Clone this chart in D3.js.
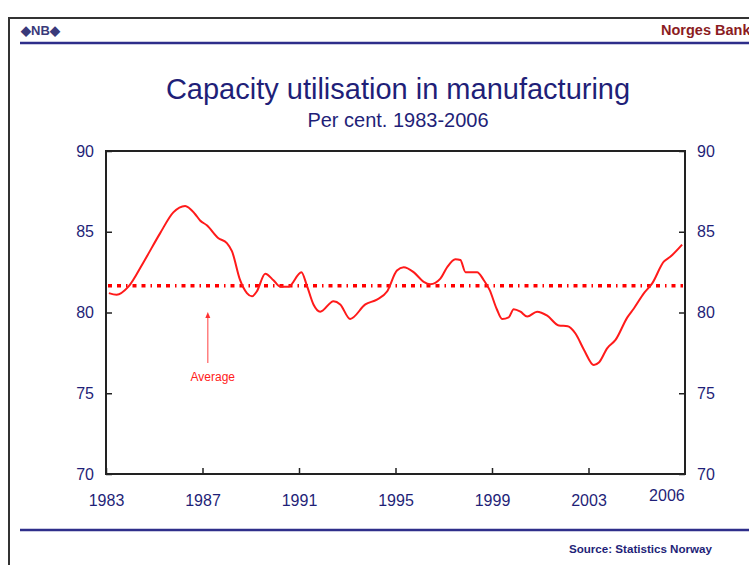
<!DOCTYPE html>
<html>

<head>
    <meta charset='utf-8'>
    <title>Capacity utilisation</title>
    <script src='https://cdn.jsdelivr.net/npm/d3@7'></script>
    <style>
        body { margin: 0; background: #fff; }
        text { font-family: 'Liberation Sans', Arial, sans-serif; }
    </style>
</head>

<body>
    <svg width='749' height='565'></svg>
    <script>
        // values (year as decimal, per cent)
        const years = [1983.12, 1983.44, 1983.93, 1984.55, 1985.24, 1985.79, 1986.28, 1986.69, 1986.9, 1987.18,
            1987.66, 1988.01, 1988.22, 1988.56, 1988.84, 1989.05, 1989.25, 1989.6, 1989.94, 1990.22,
            1990.56, 1991.1, 1991.32, 1991.6, 1991.88, 1992.43, 1992.71, 1993.12, 1993.75, 1994.23,
            1994.65, 1995.06, 1995.34, 1995.75, 1996.17, 1996.44, 1996.86, 1997.14, 1997.48, 1997.69,
            1997.9, 1998.38, 1998.66, 1998.9, 1999.2, 1999.42, 1999.69, 1999.9, 2000.18, 2000.46,
            2000.87, 2001.29, 2001.77, 2002.14, 2002.46, 2002.81, 2003.22, 2003.43, 2003.78, 2004.12,
            2004.61, 2004.88, 2005.3, 2005.64, 2006.12, 2006.39, 2006.88]
        const values = [81.2, 81.1, 81.6, 83.1, 84.9, 86.2, 86.6, 86.1, 85.7, 85.4,
            84.6, 84.3, 83.8, 82.0, 81.2, 81.0, 81.3, 82.4, 82.0, 81.6,
            81.6, 82.5, 81.7, 80.5, 80.05, 80.7, 80.5, 79.6, 80.5, 80.8,
            81.3, 82.6, 82.8, 82.5, 81.9, 81.75, 82.1, 82.8, 83.3, 83.25,
            82.5, 82.5, 82.0, 81.4, 80.2, 79.6, 79.7, 80.2, 80.05, 79.75,
            80.05, 79.8, 79.2, 79.15, 78.7, 77.7, 76.75, 76.9, 77.8, 78.3,
            79.7, 80.25, 81.2, 81.8, 83.15, 83.45, 84.2]
        const average = 81.65
        const xTicks = [1983, 1987, 1991, 1995, 1999, 2003]
        const yTicks = [70, 75, 80, 85, 90]

        const navy = '#1f1f78'
        const svg = d3.select('svg')

        // page furniture
        svg.append('rect').attr('width', 749).attr('height', 565).attr('fill', '#fff')
        svg.append('path').attr('d', 'M9,570 L9,18 L760,18')
            .attr('fill', 'none').attr('stroke', '#333').attr('stroke-width', 2)
        svg.append('text').attr('x', 21).attr('y', 35).text('◆NB◆')
            .attr('font-size', 13).attr('font-weight', 'bold').attr('fill', '#3a3a7a')
        svg.append('text').attr('x', 661).attr('y', 35).text('Norges Bank')
            .attr('font-size', 14.5).attr('font-weight', 'bold').attr('fill', '#8b1c22')
        svg.append('line').attr('x1', 20).attr('x2', 749).attr('y1', 43).attr('y2', 43)
            .attr('stroke', '#2e2e8a').attr('stroke-width', 2.5)
        svg.append('line').attr('x1', 20).attr('x2', 749).attr('y1', 530).attr('y2', 530)
            .attr('stroke', '#2e2e8a').attr('stroke-width', 2.5)
        svg.append('text').attr('x', 712).attr('y', 553).attr('text-anchor', 'end')
            .text('Source: Statistics Norway').attr('font-size', 11.6).attr('font-weight', 'bold').attr('fill', navy)

        svg.append('text').attr('x', 398).attr('y', 99).attr('text-anchor', 'middle')
            .text('Capacity utilisation in manufacturing').attr('font-size', 29).attr('fill', navy)
        svg.append('text').attr('x', 398).attr('y', 127).attr('text-anchor', 'middle')
            .text('Per cent. 1983-2006').attr('font-size', 20).attr('fill', navy)

        // scales
        const x = d3.scaleLinear().domain([1983, 2007]).range([106, 685])
        const y = d3.scaleLinear().domain([70, 90]).range([474, 151])

        // axes with inward ticks
        const styleAxis = g => {
            g.select('.domain').remove()
            g.selectAll('line').attr('stroke', '#222').attr('stroke-width', 1.5)
            g.selectAll('text').attr('font-size', 16).attr('fill', navy)
                .attr('font-family', "'Liberation Sans', Arial, sans-serif")
        }
        svg.append('g').attr('transform', 'translate(106,0)')
            .call(d3.axisLeft(y).tickValues(yTicks).tickSize(-6).tickPadding(12))
            .call(styleAxis)
        svg.append('g').attr('transform', 'translate(685,0)')
            .call(d3.axisRight(y).tickValues(yTicks).tickSize(-6).tickPadding(12))
            .call(styleAxis)
        svg.append('g').attr('transform', 'translate(0,474)')
            .call(d3.axisBottom(x).tickValues(xTicks).tickFormat(d3.format('d')).tickSize(-6).tickPadding(21))
            .call(styleAxis)
        svg.append('text').attr('x', x(2006.25)).attr('y', 501).attr('text-anchor', 'middle')
            .text('2006').attr('font-size', 16).attr('fill', navy)

        // frame
        svg.append('rect').attr('x', 106).attr('y', 151).attr('width', 579).attr('height', 323)
            .attr('fill', 'none').attr('stroke', '#222').attr('stroke-width', 2)

        // average line
        svg.append('line').attr('x1', x(1983) + 2).attr('x2', x(2007) - 2)
            .attr('y1', y(average)).attr('y2', y(average))
            .attr('stroke', '#ff0000').attr('stroke-width', 3.5)
            .attr('stroke-dasharray', '4 5 4 5 1.5 5')

        // series
        const line = d3.line().x((d, i) => x(years[i])).y(d => y(d)).curve(d3.curveMonotoneX)
        svg.append('path').attr('d', line(values))
            .attr('fill', 'none').attr('stroke', '#ff1a1a').attr('stroke-width', 2)

        // annotation arrow
        const ax = x(1987.22)
        svg.append('line').attr('x1', ax).attr('x2', ax).attr('y1', 363).attr('y2', 316)
            .attr('stroke', '#ff6060').attr('stroke-width', 1.2)
        svg.append('path').attr('d', d3.line()([[ax - 2.5, 318], [ax, 312], [ax + 2.5, 318]]))
            .attr('fill', '#ff3030')
        svg.append('text').attr('x', ax + 5).attr('y', 381).attr('text-anchor', 'middle')
            .text('Average').attr('font-size', 12).attr('fill', '#ff2020')
    </script>
</body>

</html>
